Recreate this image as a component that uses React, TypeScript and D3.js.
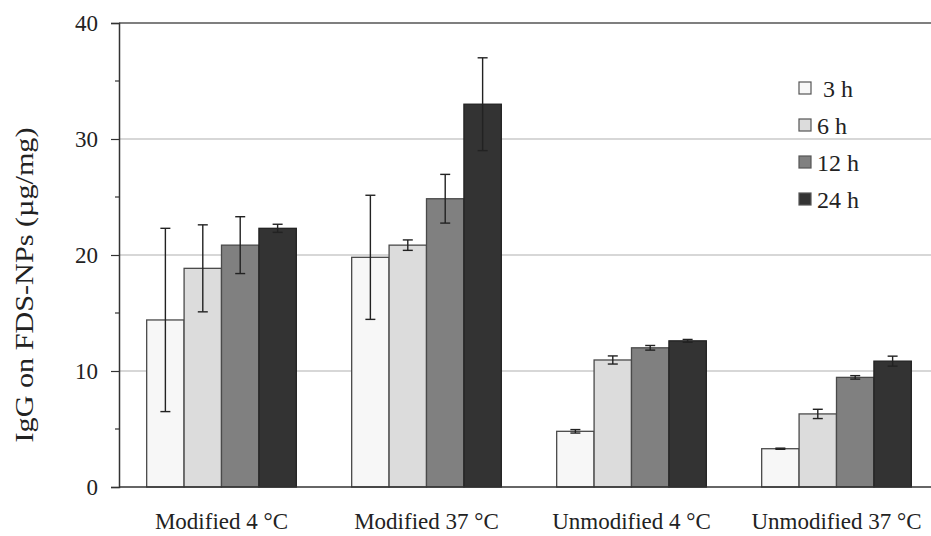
import React, { useEffect, useRef } from 'react';
import * as d3 from 'd3';

const categories = ['Modified 4 °C', 'Modified 37 °C', 'Unmodified 4 °C', 'Unmodified 37 °C'];
const seriesNames = [' 3 h', '6 h', '12 h', '24 h'];
const seriesColors = ['#f7f7f7', '#dcdcdc', '#808080', '#333333'];

// mean values per series (one entry per category)
const values3h = [14.4, 19.8, 4.8, 3.3];
const values6h = [18.85, 20.85, 10.95, 6.3];
const values12h = [20.85, 24.85, 12.0, 9.45];
const values24h = [22.3, 33.0, 12.6, 10.85];

// error bar half-widths
const err3h = [7.9, 5.35, 0.15, 0.05];
const err6h = [3.75, 0.45, 0.35, 0.4];
const err12h = [2.45, 2.1, 0.2, 0.15];
const err24h = [0.35, 4.0, 0.12, 0.43];

const yTicks = [0, 10, 20, 30, 40];
const yMinorTicks = [5, 15, 25, 35];

const App: React.FC = () => {
  const svgRef = useRef<SVGSVGElement>(null);

  useEffect(() => {
    const svg = d3.select(svgRef.current);
    svg.selectAll('*').remove();

    const values = [values3h, values6h, values12h, values24h];
    const errors = [err3h, err6h, err12h, err24h];
    const font = 'Liberation Serif, Times New Roman, serif';

    const margin = { top: 23, left: 119 };
    const plotW = 820;
    const plotH = 464;

    const g = svg.append('g').attr('transform', `translate(${margin.left},${margin.top})`);

    const x0 = d3.scaleBand<string>().domain(categories).range([0, plotW]).paddingInner(0.27).paddingOuter(0.135);
    const x1 = d3.scaleBand<number>().domain([0, 1, 2, 3]).range([0, x0.bandwidth()]);
    const y = d3.scaleLinear().domain([0, 40]).range([plotH, 0]);

    // gridlines
    g.selectAll('.grid')
      .data(yTicks.filter(t => t > 0))
      .enter().append('line')
      .attr('x1', 0).attr('x2', plotW)
      .attr('y1', d => y(d)).attr('y2', d => y(d))
      .attr('stroke', d => (d === 40 ? '#555' : '#b0b0b0'))
      .attr('stroke-width', d => (d === 40 ? 1.5 : 1.2));

    // y axis
    const yAxis = g.append('g')
      .call(d3.axisLeft(y).tickValues(yTicks).tickSize(8).tickPadding(13).tickFormat(d3.format('d')));
    yAxis.select('.domain').attr('stroke', '#333').attr('stroke-width', 1.5);
    yAxis.selectAll('.tick line').attr('stroke', '#333').attr('stroke-width', 1.2);
    yAxis.selectAll('text').style('font-family', font).attr('font-size', 23).attr('fill', '#222');

    g.selectAll('.minor')
      .data(yMinorTicks)
      .enter().append('line')
      .attr('x1', -4).attr('x2', 0)
      .attr('y1', d => y(d)).attr('y2', d => y(d))
      .attr('stroke', '#333').attr('stroke-width', 1.2);

    // bars
    categories.forEach((cat, ci) => {
      values.forEach((vals, si) => {
        const bx = (x0(cat) || 0) + (x1(si) || 0);
        const bw = x1.bandwidth();
        g.append('rect')
          .attr('x', bx).attr('y', y(vals[ci]))
          .attr('width', bw).attr('height', y(0) - y(vals[ci]))
          .attr('fill', seriesColors[si])
          .attr('stroke', si === 3 ? '#222' : '#4a4a4a')
          .attr('stroke-width', 1.3);
      });
    });

    // error bars
    categories.forEach((cat, ci) => {
      values.forEach((vals, si) => {
        const cx = (x0(cat) || 0) + (x1(si) || 0) + x1.bandwidth() / 2;
        const top = y(vals[ci] + errors[si][ci]);
        const bot = y(vals[ci] - errors[si][ci]);
        const eg = g.append('g').attr('stroke', '#222').attr('stroke-width', 1.4);
        eg.append('line').attr('x1', cx).attr('x2', cx).attr('y1', top).attr('y2', bot);
        eg.append('line').attr('x1', cx - 5).attr('x2', cx + 5).attr('y1', top).attr('y2', top);
        eg.append('line').attr('x1', cx - 5).attr('x2', cx + 5).attr('y1', bot).attr('y2', bot);
      });
    });

    // x axis baseline
    g.append('line')
      .attr('x1', 0).attr('x2', plotW)
      .attr('y1', y(0)).attr('y2', y(0))
      .attr('stroke', '#333').attr('stroke-width', 1.5);

    // category labels
    g.selectAll('.cat')
      .data(categories)
      .enter().append('text')
      .attr('x', d => (x0(d) || 0) + x0.bandwidth() / 2)
      .attr('y', plotH + 42)
      .attr('text-anchor', 'middle')
      .style('font-family', font)
      .attr('font-size', 23)
      .attr('fill', '#222')
      .text(d => d);

    // y title
    svg.append('text')
      .attr('transform', `translate(33,285) rotate(-90)`)
      .attr('text-anchor', 'middle')
      .style('font-family', font)
      .attr('font-size', 25)
      .attr('textLength', 315)
      .attr('lengthAdjust', 'spacingAndGlyphs')
      .attr('fill', '#222')
      .text('IgG on FDS-NPs (µg/mg)');

    // legend
    const legend = svg.append('g').attr('transform', 'translate(799,88)');
    seriesNames.forEach((name, i) => {
      const lg = legend.append('g').attr('transform', `translate(0,${i * 37})`);
      lg.append('rect')
        .attr('x', 0).attr('y', -6).attr('width', 12).attr('height', 12)
        .attr('fill', seriesColors[i])
        .attr('stroke', '#555').attr('stroke-width', 1.2);
      lg.append('text')
        .attr('x', 18).attr('y', 9)
        .style('font-family', font)
        .attr('font-size', 24)
        .attr('fill', '#222')
        .attr('xml:space', 'preserve')
        .style('white-space', 'pre')
        .text(name);
    });
  }, []);

  return (
    <svg ref={svgRef} width={931} height={536} style={{ position: 'absolute', left: 0, top: 0, background: '#fff' }} />
  );
};

export default App;
